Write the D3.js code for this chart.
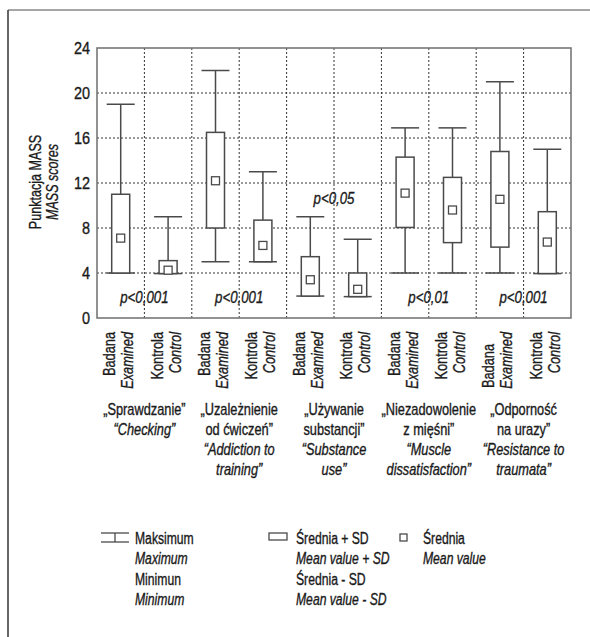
<!DOCTYPE html>
<html>
<head>
<meta charset="utf-8">
<script src="https://cdn.jsdelivr.net/npm/d3@7"></script>
<style>
  body { margin: 0; background: #fff; }
  svg text { font-family: "Liberation Sans", Arial, sans-serif; fill: #1a1a1a; stroke: #1a1a1a; stroke-width: 0.35px; }
  .it { font-style: italic; }
</style>
</head>
<body>
<svg id="chart" width="590" height="637"></svg>
<script>
// one entry per box: Badana / Kontrola for each of the 5 scales
const groupLabels = ["Badana", "Kontrola"];
const groupLabelsEn = ["Examined", "Control"];
const maxValues  = [19, 9, 22, 13, 9, 7, 16.9, 16.9, 21, 15];
const sdHigh     = [11, 5.1, 16.5, 8.7, 5.45, 4.0, 14.3, 12.5, 14.8, 9.45];
const meanValues = [7.1, 4.25, 12.2, 6.45, 3.4, 2.55, 11.1, 9.6, 10.55, 6.75];
const sdLow      = [4, 3.95, 8, 5, 1.95, 1.9, 8.05, 6.7, 6.3, 3.95];
const minValues  = [4, 3.95, 5, 5, 1.95, 1.9, 4, 4, 4, 3.95];

const pLabels = ["p<0,001", "p<0,001", "p<0,05", "p<0,01", "p<0,001"];
const pLabelValues = [1.35, 1.35, 10.1, 1.35, 1.35];

const scaleNamesPl = [
  ["„Sprawdzanie”"],
  ["„Uzależnienie", "od ćwiczeń”"],
  ["„Używanie", "substancji”"],
  ["„Niezadowolenie", "z mięśni”"],
  ["„Odporność", "na urazy”"]
];
const scaleNamesEn = [
  ["“Checking”"],
  ["“Addiction to", "training”"],
  ["“Substance", "use”"],
  ["“Muscle", "dissatisfaction”"],
  ["“Resistance to", "traumata”"]
];
const yTicks = [0, 4, 8, 12, 16, 20, 24];

const svg = d3.select("#chart");
const margin = {top: 48, left: 97, right: 19};
const width = 590, plotBottom = 318;
const ink = "#4a4a4a";

// no narrow font offline: squeeze text horizontally around its anchor x
function squeeze(sel, r) {
  sel.each(function () {
    const x0 = +(this.getAttribute("x") || 0);
    this.setAttribute("transform", `translate(${x0},0) scale(${r},1) translate(${-x0},0)`);
  });
}

const boxes = maxValues.map((d, i) => ({
  i, max: d, hi: sdHigh[i], mean: meanValues[i], lo: sdLow[i], min: minValues[i]
}));

const x = d3.scaleBand()
  .domain(d3.range(boxes.length))
  .range([margin.left, width - margin.right]);

const y = d3.scaleLinear()
  .domain([0, 24])
  .range([plotBottom, margin.top]);

// outer frame (top + left only)
svg.append("line").attr("x1", 8).attr("x2", 590).attr("y1", 10).attr("y2", 10)
  .attr("stroke", "#888").attr("stroke-width", 1.5);
svg.append("line").attr("x1", 8).attr("x2", 8).attr("y1", 10).attr("y2", 637)
  .attr("stroke", "#333").attr("stroke-width", 1.5);

// grid
const grid = svg.append("g").attr("stroke", "#333").attr("stroke-width", 1)
  .attr("stroke-dasharray", "2,2");
grid.selectAll(".hg").data(yTicks.slice(1, -1)).enter().append("line")
  .attr("x1", x.range()[0]).attr("x2", x.range()[1])
  .attr("y1", d => y(d)).attr("y2", d => y(d));
grid.selectAll(".vg").data(d3.range(1, boxes.length)).enter().append("line")
  .attr("x1", d => x(d)).attr("x2", d => x(d))
  .attr("y1", y(24)).attr("y2", y(0));

// plot frame
svg.append("rect")
  .attr("x", x.range()[0]).attr("y", y(24))
  .attr("width", x.range()[1] - x.range()[0]).attr("height", y(0) - y(24))
  .attr("fill", "none").attr("stroke", "#777").attr("stroke-width", 1.6);

// y axis labels
svg.append("g").selectAll("text").data(yTicks).enter().append("text")
  .attr("x", 90).attr("y", d => y(d) + 6.5)
  .attr("text-anchor", "end").style("font-size", "17px")
  .text(d => d)
  .call(squeeze, 0.85);

// axis title
const yt = svg.append("g").attr("transform", "translate(0,182) rotate(-90)");
yt.append("text").attr("y", 41).attr("text-anchor", "middle").style("font-size", "17px").text("Punktacja MASS");
yt.append("text").attr("y", 58).attr("text-anchor", "middle").attr("class", "it").style("font-size", "17px").text("MASS scores");
squeeze(yt.selectAll("text"), 0.74);

// boxes
const capW = 28, boxW = 18, meanS = 8;
const bg = svg.append("g").selectAll("g").data(boxes).enter().append("g")
  .attr("transform", d => `translate(${x(d.i) + x.bandwidth() / 2},0)`)
  .attr("stroke", ink).attr("stroke-width", 1.5);
bg.append("line").attr("y1", d => y(d.max)).attr("y2", d => y(d.min));
bg.append("line").attr("x1", -capW / 2).attr("x2", capW / 2)
  .attr("y1", d => y(d.max)).attr("y2", d => y(d.max));
bg.append("line").attr("x1", -capW / 2).attr("x2", capW / 2)
  .attr("y1", d => y(d.min)).attr("y2", d => y(d.min));
bg.append("rect").attr("x", -boxW / 2).attr("width", boxW)
  .attr("y", d => y(d.hi)).attr("height", d => y(d.lo) - y(d.hi))
  .attr("fill", "#fff");
bg.append("rect").attr("x", -meanS / 2).attr("width", meanS)
  .attr("y", d => y(d.mean) - meanS / 2).attr("height", meanS)
  .attr("fill", "#fff").attr("stroke-width", 1.3);

// p values
svg.append("g").selectAll("text").data(pLabels).enter().append("text")
  .attr("class", "it").style("font-size", "17px")
  .attr("x", (d, i) => x(2 * i + 1))
  .attr("y", (d, i) => y(pLabelValues[i]))
  .attr("text-anchor", "middle")
  .text(d => d)
  .call(squeeze, 0.78);

// rotated group labels
const xl = svg.append("g").selectAll("g").data(boxes).enter().append("g")
  .attr("transform", d => `translate(${x(d.i) + x.bandwidth() / 2},332) rotate(-90)`);
xl.append("text").attr("text-anchor", "end").style("font-size", "16px")
  .attr("x", d => d.i === 8 ? -12 : 0).attr("y", -5.5)
  .text(d => groupLabels[d.i % 2]);
xl.append("text").attr("text-anchor", "end").attr("class", "it").style("font-size", "16px")
  .attr("y", 12.5)
  .text(d => groupLabelsEn[d.i % 2]);
squeeze(xl.selectAll("text"), 0.8);

// scale names
scaleNamesPl.forEach((pl, k) => {
  const cx = x(2 * k + 1);
  const lines = pl.map(t => ({t, it: false})).concat(scaleNamesEn[k].map(t => ({t, it: true})));
  svg.append("g").selectAll("text").data(lines).enter().append("text")
    .attr("x", cx).attr("y", (d, j) => 415 + j * 20)
    .attr("text-anchor", "middle").style("font-size", "16px")
    .attr("class", d => d.it ? "it" : null)
    .text(d => d.t)
    .call(squeeze, 0.8);
});

// legend
const legRows = [544, 564, 585, 605];
const legend = svg.append("g").style("font-size", "16px");
const legCols = [
  {x: 135, lines: ["Maksimum", "Maximum", "Minimun", "Minimum"]},
  {x: 296, lines: ["Średnia + SD", "Mean value + SD", "Średnia - SD", "Mean value - SD"]},
  {x: 423, lines: ["Średnia", "Mean value"]}
];
legCols.forEach(c => {
  legend.append("g").selectAll("text").data(c.lines).enter().append("text")
    .attr("x", c.x).attr("y", (d, j) => legRows[j])
    .attr("class", (d, j) => j % 2 ? "it" : null)
    .text(d => d)
    .call(squeeze, 0.76);
});
const li = legend.append("g").attr("stroke", ink).attr("stroke-width", 1.3).attr("fill", "#fff");
li.append("line").attr("x1", 101).attr("x2", 129).attr("y1", 533).attr("y2", 533);
li.append("line").attr("x1", 101).attr("x2", 129).attr("y1", 542).attr("y2", 542);
li.append("line").attr("x1", 115).attr("x2", 115).attr("y1", 533).attr("y2", 542);
li.append("rect").attr("x", 269).attr("y", 533).attr("width", 18).attr("height", 7);
li.append("rect").attr("x", 400).attr("y", 534).attr("width", 7).attr("height", 7);
</script>
</body>
</html>
